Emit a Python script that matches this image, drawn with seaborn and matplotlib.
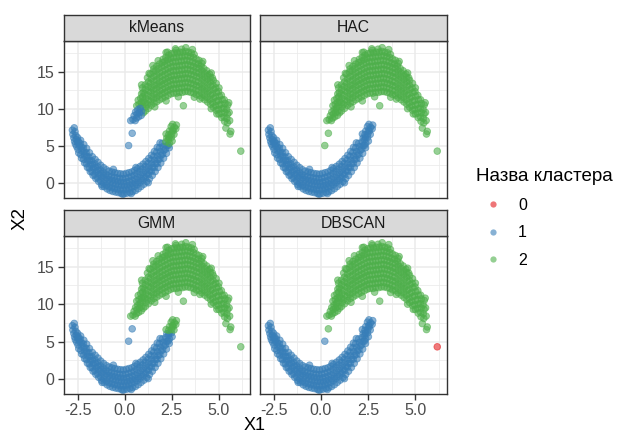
import matplotlib
matplotlib.use("Agg")
import matplotlib.pyplot as plt
import pandas as pd
import seaborn as sns
from matplotlib.lines import Line2D

# ---------------- data ----------------
methods = ["kMeans", "HAC", "GMM", "DBSCAN"]
cluster_names = ["0", "1", "2"]
x_ticks = [-2.5, 0.0, 2.5, 5.0]
x_tick_labels = ["-2.5", "0.0", "2.5", "5.0"]
y_ticks = [0, 5, 10, 15]
y_tick_labels = ["0", "5", "10", "15"]

# lower "U" shaped moon
blue_main = [
    (-2.68, 7.43), (-2.78, 7.12), (-2.64, 6.92), (-2.75, 6.55), (-2.59, 6.38), (-2.70, 6.08),
    (-2.56, 5.84), (-2.66, 5.62), (-2.55, 4.92), (-2.62, 5.25), (-2.50, 5.45),
    (-2.44, 4.05), (-2.48, 4.55), (-2.41, 5.02), (-2.46, 5.60), (-2.50, 6.10),
    (-2.29, 3.35), (-2.33, 3.82), (-2.27, 4.31), (-2.31, 4.86), (-2.36, 5.32), (-2.34, 5.75),
    (-2.13, 2.72), (-2.18, 3.20), (-2.12, 3.68), (-2.16, 4.22), (-2.20, 4.70), (-2.17, 5.18),
    (-1.98, 2.12), (-2.03, 2.60), (-1.97, 3.08), (-2.01, 3.62), (-2.05, 4.10), (-2.02, 4.66),
    (-1.83, 1.55), (-1.88, 2.02), (-1.82, 2.50), (-1.86, 3.02), (-1.90, 3.50), (-1.87, 4.08),
    (-1.68, 1.05), (-1.73, 1.50), (-1.67, 2.02), (-1.71, 2.48), (-1.75, 3.00), (-1.72, 3.55),
    (-1.53, 0.62), (-1.58, 1.10), (-1.52, 1.58), (-1.56, 2.10), (-1.60, 2.60), (-1.57, 3.18),
    (-1.38, 0.22), (-1.43, 0.70), (-1.37, 1.20), (-1.41, 1.72), (-1.45, 2.22), (-1.42, 2.80),
    (-1.23, -0.18), (-1.28, 0.32), (-1.22, 0.80), (-1.26, 1.30), (-1.30, 1.80), (-1.27, 2.40),
    (-1.08, -0.48), (-1.13, 0.02), (-1.07, 0.50), (-1.11, 1.00), (-1.15, 1.50), (-1.12, 2.08),
    (-0.93, -0.78), (-0.98, -0.28), (-0.92, 0.20), (-0.96, 0.72), (-1.00, 1.20), (-0.97, 1.80),
    (-0.78, -0.98), (-0.83, -0.50), (-0.77, 0.02), (-0.81, 0.50), (-0.85, 1.00), (-0.82, 1.60),
    (-0.63, -1.12), (-0.68, -0.60), (-0.62, -0.10), (-0.66, 0.40), (-0.70, 0.90), (-0.67, 1.48),
    (-0.48, -1.20), (-0.53, -0.72), (-0.47, -0.20), (-0.51, 0.30), (-0.55, 0.80), (-0.52, 1.40),
    (-0.33, -1.28), (-0.38, -0.80), (-0.32, -0.30), (-0.36, 0.20), (-0.40, 0.70), (-0.37, 1.30),
    (-0.18, -1.38), (-0.23, -0.85), (-0.17, -0.35), (-0.21, 0.15), (-0.25, 0.66), (-0.22, 1.25),
    (-0.03, -1.42), (-0.08, -0.90), (-0.02, -0.40), (-0.06, 0.10), (-0.10, 0.60), (-0.07, 1.20),
    (0.12, -1.35), (0.07, -0.85), (0.13, -0.35), (0.09, 0.15), (0.05, 0.65), (0.08, 1.30),
    (0.27, -1.25), (0.22, -0.75), (0.28, -0.25), (0.24, 0.25), (0.20, 0.75), (0.23, 1.40),
    (0.42, -1.15), (0.37, -0.60), (0.43, -0.10), (0.39, 0.40), (0.35, 0.90), (0.38, 1.50),
    (0.57, -1.00), (0.52, -0.45), (0.58, 0.05), (0.54, 0.55), (0.50, 1.05), (0.53, 1.70),
    (0.72, -0.75), (0.67, -0.20), (0.73, 0.30), (0.69, 0.80), (0.65, 1.30), (0.68, 1.95),
    (0.87, -0.45), (0.82, 0.10), (0.88, 0.60), (0.84, 1.10), (0.80, 1.60), (0.83, 2.25),
    (1.02, -0.15), (0.97, 0.40), (1.03, 0.90), (0.99, 1.40), (0.95, 1.90), (0.98, 2.55),
    (1.17, 0.20), (1.12, 0.75), (1.18, 1.25), (1.14, 1.75), (1.10, 2.25), (1.13, 2.90),
    (1.32, 0.60), (1.27, 1.15), (1.33, 1.65), (1.29, 2.15), (1.25, 2.65), (1.28, 3.30),
    (1.47, 1.05), (1.42, 1.60), (1.48, 2.10), (1.44, 2.60), (1.40, 3.10), (1.43, 3.75),
    (1.62, 1.55), (1.57, 2.10), (1.63, 2.60), (1.59, 3.10), (1.55, 3.60), (1.58, 4.25),
    (1.77, 2.10), (1.72, 2.65), (1.78, 3.15), (1.74, 3.65), (1.70, 4.15), (1.73, 4.80),
    (1.92, 2.70), (1.87, 3.25), (1.93, 3.75), (1.89, 4.25), (1.85, 4.75), (1.88, 5.40),
    (2.07, 3.35), (2.02, 3.90), (2.08, 4.40), (2.04, 4.90), (2.00, 5.35),
    (2.22, 4.00), (2.17, 4.55), (2.23, 5.02), (2.37, 4.75), (2.32, 5.08),
    (-0.10, -1.50), (0.35, -1.40), (-0.60, 1.85), (0.60, 2.10), (-1.20, -0.45), (1.25, 0.05),
]
# right tip of the U (green in kMeans)
blue_tip_low = [
    (2.19, 5.55), (2.24, 6.05), (2.38, 5.35), (2.33, 5.82), (2.36, 6.12), (2.52, 5.65), (2.48, 6.15),
]
# very top of the right tip (green in kMeans and GMM)
blue_tip_high = [
    (2.20, 6.60), (2.34, 6.50), (2.38, 7.00), (2.49, 6.62), (2.53, 7.10), (2.47, 7.60),
    (2.62, 6.55), (2.58, 7.02), (2.64, 7.50), (2.55, 7.90), (2.72, 7.30), (2.75, 7.80),
]
# upper arch-shaped moon
green_main = [
    (0.64, 10.40), (0.76, 10.60), (0.72, 11.15), (0.86, 10.25), (0.89, 10.85), (0.85, 11.40), (0.90, 12.00),
    (0.99, 9.45), (0.96, 10.50), (1.00, 11.05), (0.95, 11.60), (0.98, 12.20), (0.94, 12.80),
    (1.10, 9.70), (1.13, 10.25), (1.08, 10.80), (1.12, 11.40), (1.07, 12.00), (1.11, 12.60), (1.09, 13.20),
    (1.26, 10.05), (1.22, 10.60), (1.27, 11.20), (1.23, 11.80), (1.28, 12.40), (1.24, 13.00), (1.26, 13.60), (1.21, 14.15),
    (1.41, 10.45), (1.38, 11.00), (1.43, 11.60), (1.39, 12.20), (1.42, 12.80), (1.37, 13.40), (1.41, 14.00), (1.36, 14.65),
    (1.56, 10.75), (1.53, 11.30), (1.57, 11.90), (1.52, 12.50), (1.58, 13.10), (1.54, 13.70), (1.56, 14.30), (1.51, 14.90), (1.55, 15.35),
    (1.71, 10.95), (1.68, 11.50), (1.72, 12.10), (1.67, 12.70), (1.73, 13.30), (1.69, 13.90), (1.71, 14.50), (1.66, 15.10), (1.70, 15.70),
    (1.86, 11.20), (1.83, 11.80), (1.87, 12.40), (1.82, 13.00), (1.88, 13.60), (1.84, 14.20), (1.86, 14.80), (1.81, 15.40), (1.85, 16.00),
    (2.01, 11.40), (1.98, 12.00), (2.02, 12.60), (1.97, 13.20), (2.03, 13.80), (1.99, 14.40), (2.01, 15.00), (1.96, 15.60), (2.00, 16.20), (2.04, 16.65),
    (2.16, 11.60), (2.13, 12.20), (2.17, 12.80), (2.12, 13.40), (2.18, 14.00), (2.14, 14.60), (2.16, 15.20), (2.11, 15.80), (2.15, 16.40), (2.19, 16.90),
    (2.31, 11.80), (2.28, 12.40), (2.32, 13.00), (2.27, 13.60), (2.33, 14.20), (2.29, 14.80), (2.31, 15.40), (2.26, 16.00), (2.30, 16.60), (2.34, 17.20),
    (2.46, 12.00), (2.43, 12.60), (2.47, 13.20), (2.42, 13.80), (2.48, 14.40), (2.44, 15.00), (2.46, 15.60), (2.41, 16.20), (2.45, 16.80), (2.49, 17.40),
    (2.61, 12.10), (2.58, 12.70), (2.62, 13.30), (2.57, 13.90), (2.63, 14.50), (2.59, 15.10), (2.61, 15.70), (2.56, 16.30), (2.60, 16.90), (2.64, 17.50),
    (2.76, 12.10), (2.73, 12.70), (2.77, 13.30), (2.72, 13.90), (2.78, 14.50), (2.74, 15.10), (2.76, 15.70), (2.71, 16.30), (2.75, 16.90), (2.79, 17.50), (2.73, 17.85),
    (2.91, 12.20), (2.88, 12.80), (2.92, 13.40), (2.87, 14.00), (2.93, 14.60), (2.89, 15.20), (2.91, 15.80), (2.86, 16.40), (2.90, 17.00), (2.94, 17.60),
    (3.06, 12.20), (3.03, 12.80), (3.07, 13.40), (3.02, 14.00), (3.08, 14.60), (3.04, 15.20), (3.06, 15.80), (3.01, 16.40), (3.05, 17.00), (3.09, 17.60), (3.03, 18.00),
    (3.21, 12.30), (3.18, 12.90), (3.22, 13.50), (3.17, 14.10), (3.23, 14.70), (3.19, 15.30), (3.21, 15.90), (3.16, 16.50), (3.20, 17.10), (3.24, 17.70),
    (3.36, 12.30), (3.33, 12.90), (3.37, 13.50), (3.32, 14.10), (3.38, 14.70), (3.34, 15.30), (3.36, 15.90), (3.31, 16.50), (3.35, 17.10), (3.39, 17.60),
    (3.51, 12.20), (3.48, 12.80), (3.52, 13.40), (3.47, 14.00), (3.53, 14.60), (3.49, 15.20), (3.51, 15.80), (3.46, 16.40), (3.50, 17.00), (3.54, 17.50),
    (3.66, 12.10), (3.63, 12.70), (3.67, 13.30), (3.62, 13.90), (3.68, 14.50), (3.64, 15.10), (3.66, 15.70), (3.61, 16.30), (3.65, 16.90), (3.69, 17.30),
    (3.81, 11.90), (3.78, 12.50), (3.82, 13.10), (3.77, 13.70), (3.83, 14.30), (3.79, 14.90), (3.81, 15.50), (3.76, 16.10), (3.80, 16.70),
    (3.96, 11.80), (3.93, 12.40), (3.97, 13.00), (3.92, 13.60), (3.98, 14.20), (3.94, 14.80), (3.96, 15.40), (3.91, 16.00), (3.95, 16.50),
    (4.11, 11.50), (4.08, 12.10), (4.12, 12.70), (4.07, 13.30), (4.13, 13.90), (4.09, 14.50), (4.11, 15.10), (4.06, 15.70), (4.10, 16.10),
    (4.26, 11.20), (4.23, 11.80), (4.27, 12.40), (4.22, 13.00), (4.28, 13.60), (4.24, 14.20), (4.26, 14.80), (4.21, 15.40),
    (4.41, 10.90), (4.38, 11.50), (4.42, 12.10), (4.37, 12.70), (4.43, 13.30), (4.39, 13.90), (4.41, 14.50), (4.36, 15.10),
    (4.56, 10.60), (4.53, 11.20), (4.57, 11.80), (4.52, 12.40), (4.58, 13.00), (4.54, 13.60), (4.56, 14.20), (4.51, 14.65),
    (4.71, 10.20), (4.68, 10.80), (4.72, 11.40), (4.67, 12.00), (4.73, 12.60), (4.69, 13.20), (4.71, 13.80), (4.66, 14.15),
    (4.86, 9.80), (4.83, 10.40), (4.87, 11.00), (4.82, 11.60), (4.88, 12.20), (4.84, 12.80), (4.86, 13.40),
    (5.01, 9.30), (4.98, 9.90), (5.02, 10.50), (4.97, 11.10), (5.03, 11.70), (4.99, 12.30), (5.01, 12.80),
    (5.16, 8.80), (5.13, 9.40), (5.17, 10.00), (5.12, 10.60), (5.18, 11.20), (5.14, 11.80),
    (5.31, 8.30), (5.28, 8.90), (5.32, 9.50), (5.27, 10.10), (5.33, 10.70), (5.29, 11.20),
    (5.46, 8.10), (5.43, 8.70), (5.47, 9.30), (5.42, 9.90), (5.48, 10.50),
    (5.58, 8.40), (5.55, 9.50), (5.53, 10.80), (5.38, 7.40), (5.60, 6.60), (5.64, 6.95), (3.12, 10.40),
    (1.50, 15.80), (2.20, 17.55), (3.25, 18.20), (3.60, 17.95), (2.70, 18.05), (4.15, 16.35),
    (4.60, 14.80), (1.30, 14.75), (2.20, 11.05), (1.60, 10.25), (4.00, 11.30), (4.60, 10.00),
    (2.85, 11.60), (3.70, 11.55), (4.90, 9.30), (0.90, 13.20), (1.78, 16.45), (2.28, 17.60),
]
# lower-left end of the arch plus one stray point (blue in kMeans)
green_tail = [
    (0.44, 8.55), (0.50, 9.05), (0.56, 8.40), (0.58, 9.55), (0.63, 8.75), (0.66, 9.30),
    (0.70, 9.85), (0.74, 8.90), (0.78, 9.50), (0.82, 10.05), (0.88, 9.10), (0.90, 9.65),
    (0.32, 8.40),
]
stray_mid = [(0.40, 6.70)]     # between the moons
stray_low = [(0.21, 5.05)]     # between the moons, lower
far_point = [(6.17, 4.30)]     # far right point (noise in DBSCAN)

# cluster label of each group, per method (order of `methods`)
lab_blue_main = ["1", "1", "1", "1"]
lab_blue_tip_low = ["2", "1", "1", "1"]
lab_blue_tip_high = ["2", "1", "2", "1"]
lab_green_main = ["2", "2", "2", "2"]
lab_green_tail = ["1", "2", "2", "2"]
lab_stray_mid = ["1", "2", "1", "2"]
lab_stray_low = ["1", "2", "1", "1"]
lab_far_point = ["2", "2", "2", "0"]

groups = [
    (blue_main, lab_blue_main), (blue_tip_low, lab_blue_tip_low), (blue_tip_high, lab_blue_tip_high),
    (green_main, lab_green_main), (green_tail, lab_green_tail), (stray_mid, lab_stray_mid),
    (stray_low, lab_stray_low), (far_point, lab_far_point),
]

palette = {"0": "#E41A1C", "1": "#377EB8", "2": "#4DAF4A"}

# ---------------- figure ----------------
plt.rcParams["font.family"] = ["Liberation Sans", "DejaVu Sans"]
W, H = 617, 434
fig = plt.figure(figsize=(W / 100, H / 100), dpi=100)


def rect(l, t, r, b):
    return [l / W, 1 - b / H, (r - l) / W, (b - t) / H]


cols = [(63.5, 250.0), (259.5, 446.5)]
rows = [(15, 41, 198), (210, 236, 394)]

for i, m in enumerate(methods):
    r, c = divmod(i, 2)
    l, rr = cols[c]
    st, pt, pb = rows[r]
    recs = []
    for pts, labs in groups:
        for (x, y) in pts:
            recs.append({"X1": x, "X2": y, "cl": labs[i]})
    df = pd.DataFrame(recs)

    ax = fig.add_axes(rect(l, pt, rr, pb))
    sns.scatterplot(data=df, x="X1", y="X2", hue="cl", hue_order=cluster_names,
                    palette=palette, s=23, alpha=0.58, linewidth=0.6, edgecolor="face",
                    legend=False, ax=ax)
    ax.set_xlim(-3.25, 6.66)
    ax.set_ylim(-2.0, 19.1)
    ax.set_xticks(x_ticks)
    ax.set_yticks(y_ticks)
    ax.set_xticks([-1.25, 1.25, 3.75, 6.25], minor=True)
    ax.set_yticks([2.5, 7.5, 12.5, 17.5], minor=True)
    ax.set_facecolor("white")
    ax.grid(which="major", color="#EBEBEB", linewidth=1.1)
    ax.grid(which="minor", color="#EBEBEB", linewidth=0.55)
    ax.set_axisbelow(True)
    for s in ax.spines.values():
        s.set_color("#333333")
        s.set_linewidth(1.0)
    ax.tick_params(which="minor", length=0)
    ax.tick_params(which="major", length=4, width=1.0, color="#333333",
                   labelcolor="#4D4D4D", labelsize=11.5, pad=2.5)
    if r == 0:
        ax.tick_params(axis="x", which="major", bottom=False, labelbottom=False)
    else:
        ax.set_xticklabels(x_tick_labels)
    if c == 1:
        ax.tick_params(axis="y", which="major", left=False, labelleft=False)
    else:
        ax.set_yticklabels(y_tick_labels)
    ax.set_xlabel("")
    ax.set_ylabel("")

    sax = fig.add_axes(rect(l, st, rr, pt))
    sax.set_facecolor("#D9D9D9")
    sax.set_xticks([])
    sax.set_yticks([])
    for s in sax.spines.values():
        s.set_color("#333333")
        s.set_linewidth(1.0)
    sax.text(0.5, 0.5, m, ha="center", va="center", fontsize=11.3, color="#1A1A1A",
             transform=sax.transAxes)

fig.text(255 / W, 1 - 425 / H, "X1", ha="center", va="center", fontsize=13)
fig.text(20 / W, 1 - 218 / H, "X2", ha="center", va="center", rotation=90, fontsize=13.5)

handles = [Line2D([], [], marker="o", linestyle="", markersize=4.5, markerfacecolor=palette[k],
                  markeredgewidth=0, alpha=0.6) for k in cluster_names]
fig.legend(handles, cluster_names, title="Назва кластера", loc="upper left",
           bbox_to_anchor=(470 / W, 1 - 162 / H), frameon=False, fontsize=11.5,
           title_fontsize=13.5, alignment="left", handlelength=2.1, handletextpad=0.5,
           labelspacing=0.78, borderaxespad=0)

fig.savefig("out.png", dpi=100)
